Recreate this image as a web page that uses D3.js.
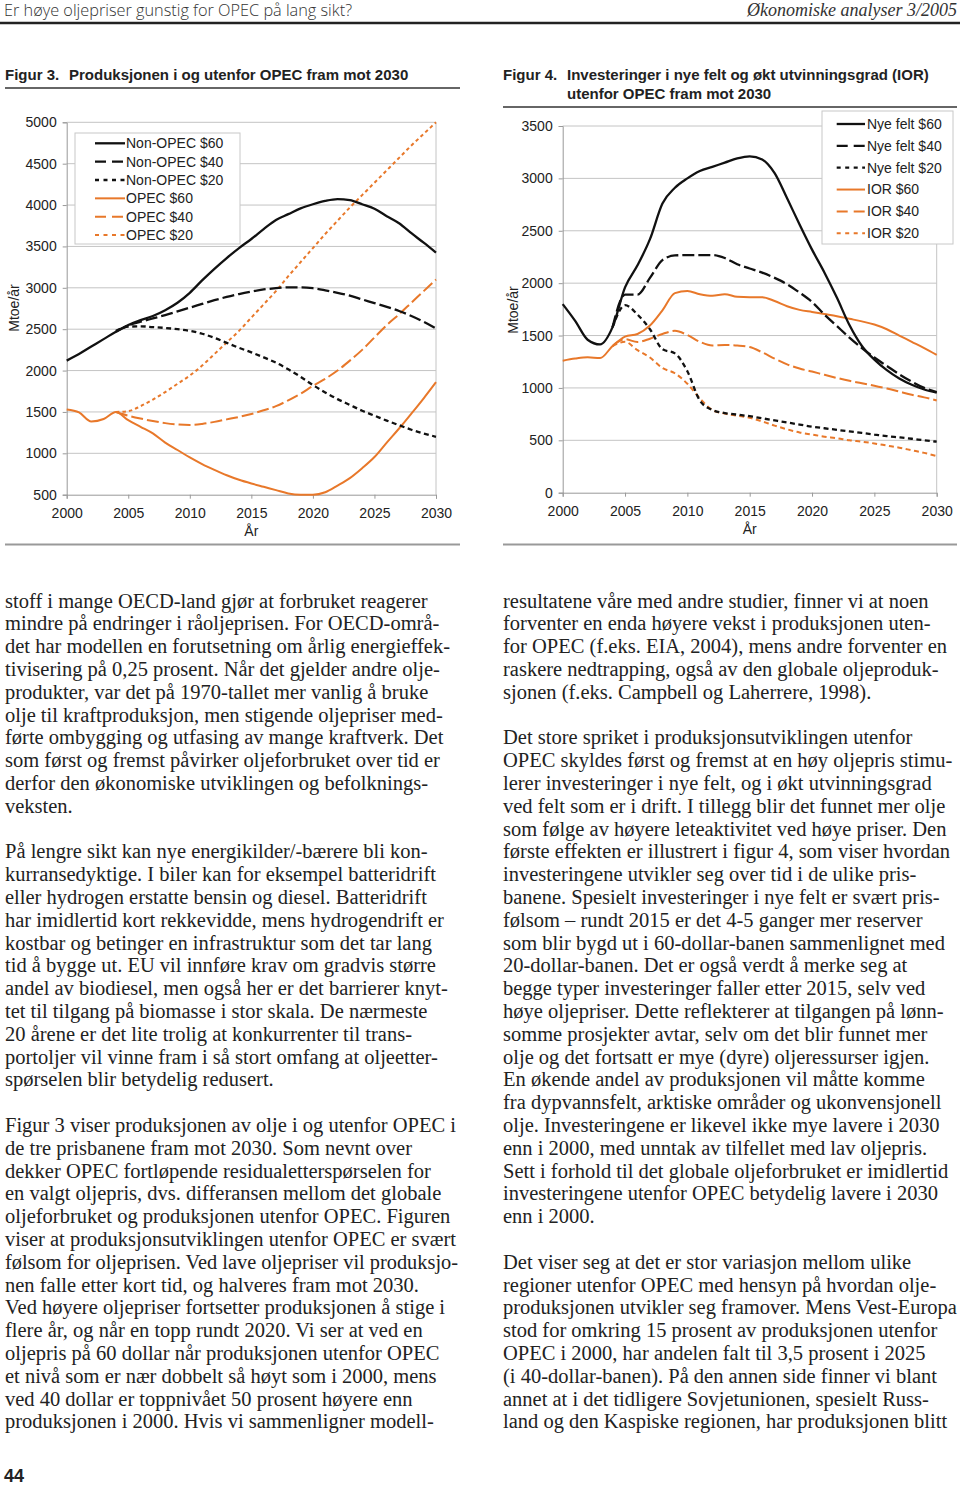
<!DOCTYPE html>
<html><head><meta charset="utf-8">
<script src="https://cdn.jsdelivr.net/npm/d3@7"></script>
<style>body{margin:0;background:#fff;} svg{display:block;}</style>
</head><body><svg id="page" width="960" height="1485"></svg>
<script>
// ---------- DATA ----------
const years = [2000,2001,2002,2003,2004,2005,2006,2007,2008,2009,2010,2011,2012,2013,2014,2015,2016,2017,2018,2019,2020,2021,2022,2023,2024,2025,2026,2027,2028,2029,2030];
const xTicks = [2000,2005,2010,2015,2020,2025,2030];

// Figur 3 (Mtoe/år)
const fig3YTicks = [500,1000,1500,2000,2500,3000,3500,4000,4500,5000];
const nonOpec60 = [2120,2200,2290,2380,2470,2550,2610,2660,2730,2820,2940,3090,3230,3360,3480,3590,3710,3820,3890,3960,4010,4050,4072,4060,4010,3955,3865,3780,3660,3545,3425];
const nonOpec40 = [null,null,null,null,2470,2545,2590,2630,2670,2715,2760,2805,2850,2890,2925,2955,2980,2995,3005,3005,2995,2970,2940,2905,2860,2815,2770,2720,2660,2590,2510];
const nonOpec20 = [null,null,null,null,2480,2530,2535,2525,2515,2500,2480,2445,2395,2335,2275,2220,2160,2095,2015,1925,1825,1735,1655,1585,1515,1455,1395,1340,1285,1240,1200];
const opec60 = [1530,1495,1385,1415,1500,1400,1320,1240,1130,1040,950,870,800,735,680,635,595,555,515,500,500,530,610,700,820,955,1130,1300,1480,1665,1860];
const opec40 = [null,null,null,null,1500,1455,1420,1390,1365,1348,1342,1355,1380,1410,1440,1475,1520,1570,1640,1720,1815,1900,2000,2120,2250,2400,2550,2680,2820,2960,3100];
const opec20 = [null,null,null,null,1500,1510,1570,1650,1740,1840,1940,2060,2200,2340,2480,2640,2800,2960,3140,3310,3480,3650,3810,3970,4120,4270,4420,4570,4720,4860,5000];
const fig3Names = ["Non-OPEC $60","Non-OPEC $40","Non-OPEC $20","OPEC $60","OPEC $40","OPEC $20"];

// Figur 4 (Mtoe/år)
const fig4YTicks = [0,500,1000,1500,2000,2500,3000,3500];
const nyeFelt60 = [1800,1640,1460,1415,1580,1960,2170,2420,2760,2910,3000,3070,3110,3150,3190,3210,3180,3050,2810,2560,2320,2100,1860,1600,1400,1270,1170,1090,1030,985,955];
const nyeFelt40 = [null,null,null,null,1580,1890,1890,2050,2220,2265,2268,2268,2268,2240,2180,2140,2100,2050,1990,1910,1820,1700,1590,1480,1380,1290,1210,1130,1060,1000,960];
const nyeFelt20 = [null,null,null,null,1580,1790,1700,1560,1370,1330,1160,880,790,760,745,730,710,690,670,650,630,615,600,585,570,555,540,528,515,500,487];
const ior60 = [1260,1280,1292,1285,1400,1490,1515,1595,1740,1905,1925,1895,1880,1895,1870,1866,1866,1830,1780,1745,1725,1705,1685,1660,1635,1605,1560,1500,1440,1380,1315];
const ior40 = [null,null,null,null,1400,1465,1438,1470,1515,1545,1505,1440,1405,1410,1405,1390,1340,1280,1225,1185,1156,1125,1095,1068,1045,1020,995,965,935,910,880];
const ior20 = [null,null,null,null,1400,1440,1360,1290,1190,1140,1040,900,790,755,735,715,680,640,605,575,555,535,520,500,487,470,450,430,405,380,350];
const fig4Names = ["Nye felt $60","Nye felt $40","Nye felt $20","IOR $60","IOR $40","IOR $20"];

// Text
const headerLeft = "Er høye oljepriser gunstig for OPEC på lang sikt?";
const headerRight = "Økonomiske analyser 3/2005";
const fig3Title = ["Figur 3.", "Produksjonen i og utenfor OPEC fram mot 2030"];
const fig4Title = ["Figur 4.", "Investeringer i nye felt og økt utvinningsgrad (IOR)", "utenfor OPEC fram mot 2030"];
const yAxisTitle = "Mtoe/år";
const xAxisTitle = "År";
const pageNumber = "44";

const leftLines = [
"stoff i mange OECD-land gjør at forbruket reagerer",
"mindre på endringer i råoljeprisen. For OECD-områ-",
"det har modellen en forutsetning om årlig energieffek-",
"tivisering på 0,25 prosent. Når det gjelder andre olje-",
"produkter, var det på 1970-tallet mer vanlig å bruke",
"olje til kraftproduksjon, men stigende oljepriser med-",
"førte ombygging og utfasing av mange kraftverk. Det",
"som først og fremst påvirker oljeforbruket over tid er",
"derfor den økonomiske utviklingen og befolknings-",
"veksten.",
"",
"På lengre sikt kan nye energikilder/-bærere bli kon-",
"kurransedyktige. I biler kan for eksempel batteridrift",
"eller hydrogen erstatte bensin og diesel. Batteridrift",
"har imidlertid kort rekkevidde, mens hydrogendrift er",
"kostbar og betinger en infrastruktur som det tar lang",
"tid å bygge ut. EU vil innføre krav om gradvis større",
"andel av biodiesel, men også her er det barrierer knyt-",
"tet til tilgang på biomasse i stor skala. De nærmeste",
"20 årene er det lite trolig at konkurrenter til trans-",
"portoljer vil vinne fram i så stort omfang at oljeetter-",
"spørselen blir betydelig redusert.",
"",
"Figur 3 viser produksjonen av olje i og utenfor OPEC i",
"de tre prisbanene fram mot 2030. Som nevnt over",
"dekker OPEC fortløpende residualetterspørselen for",
"en valgt oljepris, dvs. differansen mellom det globale",
"oljeforbruket og produksjonen utenfor OPEC. Figuren",
"viser at produksjonsutviklingen utenfor OPEC er svært",
"følsom for oljeprisen. Ved lave oljepriser vil produksjo-",
"nen falle etter kort tid, og halveres fram mot 2030.",
"Ved høyere oljepriser fortsetter produksjonen å stige i",
"flere år, og når en topp rundt 2020. Vi ser at ved en",
"oljepris på 60 dollar når produksjonen utenfor OPEC",
"et nivå som er nær dobbelt så høyt som i 2000, mens",
"ved 40 dollar er toppnivået 50 prosent høyere enn",
"produksjonen i 2000. Hvis vi sammenligner modell-"
];
const rightLines = [
"resultatene våre med andre studier, finner vi at noen",
"forventer en enda høyere vekst i produksjonen uten-",
"for OPEC (f.eks. EIA, 2004), mens andre forventer en",
"raskere nedtrapping, også av den globale oljeproduk-",
"sjonen (f.eks. Campbell og Laherrere, 1998).",
"",
"Det store spriket i produksjonsutviklingen utenfor",
"OPEC skyldes først og fremst at en høy oljepris stimu-",
"lerer investeringer i nye felt, og i økt utvinningsgrad",
"ved felt som er i drift. I tillegg blir det funnet mer olje",
"som følge av høyere leteaktivitet ved høye priser. Den",
"første effekten er illustrert i figur 4, som viser hvordan",
"investeringene utvikler seg over tid i de ulike pris-",
"banene. Spesielt investeringer i nye felt er svært pris-",
"følsom – rundt 2015 er det 4-5 ganger mer reserver",
"som blir bygd ut i 60-dollar-banen sammenlignet med",
"20-dollar-banen. Det er også verdt å merke seg at",
"begge typer investeringer faller etter 2015, selv ved",
"høye oljepriser. Dette reflekterer at tilgangen på lønn-",
"somme prosjekter avtar, selv om det blir funnet mer",
"olje og det fortsatt er mye (dyre) oljeressurser igjen.",
"En økende andel av produksjonen vil måtte komme",
"fra dypvannsfelt, arktiske områder og ukonvensjonell",
"olje. Investeringene er likevel ikke mye lavere i 2030",
"enn i 2000, med unntak av tilfellet med lav oljepris.",
"Sett i forhold til det globale oljeforbruket er imidlertid",
"investeringene utenfor OPEC betydelig lavere i 2030",
"enn i 2000.",
"",
"Det viser seg at det er stor variasjon mellom ulike",
"regioner utenfor OPEC med hensyn på hvordan olje-",
"produksjonen utvikler seg framover. Mens Vest-Europa",
"stod for omkring 15 prosent av produksjonen utenfor",
"OPEC i 2000, har andelen falt til 3,5 prosent i 2025",
"(i 40-dollar-banen). På den annen side finner vi blant",
"annet at i det tidligere Sovjetunionen, spesielt Russ-",
"land og den Kaspiske regionen, har produksjonen blitt"
];

// ---------- STYLES ----------
const BLACK = "#111", ORANGE = "#E8782A";
const styles = [
  {color: BLACK, dash: null, w: 2.3},
  {color: BLACK, dash: "12,4", w: 2.3},
  {color: BLACK, dash: "5,3.5", w: 2.3},
  {color: ORANGE, dash: null, w: 2},
  {color: ORANGE, dash: "12,4", w: 2},
  {color: ORANGE, dash: "3.5,3", w: 2}
];
const SANS = "'Liberation Sans', Arial, Helvetica, sans-serif";
const SERIF = "'Liberation Serif', 'Times New Roman', serif";

const svg = d3.select("#page");

// ---------- HEADER ----------
svg.append("text").attr("x", 4).attr("y", 16).attr("font-family", "'Open Sans', 'Liberation Sans', sans-serif")
  .attr("font-weight", 300).attr("font-size", 16.3).attr("fill", "#333").text(headerLeft);
svg.append("text").attr("x", 957).attr("y", 16).attr("text-anchor", "end").attr("font-family", SERIF)
  .attr("font-style", "italic").attr("font-size", 18).attr("fill", "#333").text(headerRight);
svg.append("line").attr("x1", 0).attr("x2", 960).attr("y1", 23).attr("y2", 23).attr("stroke", "#222").attr("stroke-width", 2.5);

const TITLEFONT = "'Liberation Sans Narrow', 'Liberation Sans', Arial, sans-serif";
function title(x, x2, y, parts) {
  svg.append("text").attr("x", x).attr("y", y).attr("font-family", TITLEFONT).attr("font-weight", "bold")
    .attr("font-size", 15).attr("fill", "#222").text(parts[0]);
  parts.slice(1).forEach((p, i) => {
    svg.append("text").attr("x", x2).attr("y", y + i * 19).attr("font-family", TITLEFONT).attr("font-weight", "bold")
      .attr("font-size", 15).attr("fill", "#222").text(p);
  });
}
title(5, 69, 80, fig3Title);
svg.append("line").attr("x1", 5).attr("x2", 460).attr("y1", 88).attr("y2", 88).attr("stroke", "#333").attr("stroke-width", 1.5);
title(503, 567, 80, fig4Title);
svg.append("line").attr("x1", 503).attr("x2", 957).attr("y1", 107).attr("y2", 107).attr("stroke", "#333").attr("stroke-width", 1.5);

svg.append("line").attr("x1", 5).attr("x2", 460).attr("y1", 544.5).attr("y2", 544.5).attr("stroke", "#999").attr("stroke-width", 2);
svg.append("line").attr("x1", 503).attr("x2", 957).attr("y1", 544.5).attr("y2", 544.5).attr("stroke", "#999").attr("stroke-width", 2);

// ---------- CHARTS ----------
function drawChart(cfg) {
  const g = svg.append("g");
  const x = d3.scaleLinear().domain([2000, 2030]).range([cfg.x0, cfg.x1]);
  const y = d3.scaleLinear().domain(cfg.yDomain).range([cfg.yb, cfg.yt]);

  g.selectAll("line.grid").data(cfg.yTicks.slice(1)).enter().append("line")
    .attr("x1", cfg.x0).attr("x2", cfg.x1).attr("y1", d => y(d)).attr("y2", d => y(d))
    .attr("stroke", "#c4c4c4").attr("stroke-width", 1);
  g.append("line").attr("x1", cfg.x1).attr("x2", cfg.x1).attr("y1", cfg.yt).attr("y2", cfg.yb)
    .attr("stroke", "#c4c4c4").attr("stroke-width", 1);

  const ya = g.append("g").attr("transform", `translate(${cfg.x0},0)`)
    .call(d3.axisLeft(y).tickValues(cfg.yTicks).tickSize(4).tickPadding(6).tickFormat(d3.format("d")));
  const xa = g.append("g").attr("transform", `translate(0,${cfg.yb})`)
    .call(d3.axisBottom(x).tickValues(xTicks).tickSize(4).tickPadding(9).tickFormat(d3.format("d")));
  [ya, xa].forEach(a => {
    a.selectAll("path.domain").attr("stroke", "#999");
    a.selectAll(".tick line").attr("stroke", "#999");
    a.selectAll("text").attr("font-family", SANS).attr("font-size", 14).attr("fill", "#222");
  });

  g.append("text").attr("x", (cfg.x0 + cfg.x1) / 2).attr("y", cfg.yb + 41).attr("text-anchor", "middle")
    .attr("font-family", SANS).attr("font-size", 14).attr("fill", "#222").text(xAxisTitle);
  g.append("text").attr("transform", `translate(${cfg.ytx},${cfg.yty}) rotate(-90)`).attr("text-anchor", "middle")
    .attr("font-family", SANS).attr("font-size", 14).attr("fill", "#222").text(yAxisTitle);

  const line = d3.line().defined(d => d[1] != null).x(d => x(d[0])).y(d => y(d[1])).curve(d3.curveMonotoneX);
  const order = [5, 4, 3, 2, 1, 0];
  order.forEach(i => {
    const s = cfg.series[i], st = cfg.styles[i];
    g.append("path").datum(years.map((yr, k) => [yr, s[k]]))
      .attr("d", line).attr("fill", "none").attr("stroke", st.color).attr("stroke-width", st.w)
      .attr("stroke-dasharray", st.dash).attr("stroke-linejoin", "round");
  });

  const L = cfg.legend;
  g.append("rect").attr("x", L.x).attr("y", L.y).attr("width", L.w).attr("height", L.h)
    .attr("fill", "#fff").attr("stroke", "#c8c8c8").attr("stroke-width", 1);
  cfg.names.forEach((n, i) => {
    const ry = L.rowY0 + i * L.rowDy, st = cfg.styles[i];
    g.append("line").attr("x1", L.lx0).attr("x2", L.lx1).attr("y1", ry).attr("y2", ry)
      .attr("stroke", st.color).attr("stroke-width", st.w).attr("stroke-dasharray", st.dash ? (st.dash === "12,4" ? "11,6" : "4,4.5") : null);
    g.append("text").attr("x", L.tx).attr("y", ry).attr("dy", "0.35em").attr("font-family", SANS)
      .attr("font-size", 14).attr("fill", "#222").text(n);
  });
}

drawChart({
  x0: 66.7, x1: 436, yb: 494.7, yt: 122.3, yDomain: [500, 5000], yTicks: fig3YTicks,
  ytx: 19, yty: 308,
  series: [nonOpec60, nonOpec40, nonOpec20, opec60, opec40, opec20], styles, names: fig3Names,
  legend: {x: 75, y: 133, w: 165, h: 111, rowY0: 143.3, rowDy: 18.35, lx0: 95, lx1: 125, tx: 126}
});
drawChart({
  x0: 562.7, x1: 936.7, yb: 492.7, yt: 126, yDomain: [0, 3500], yTicks: fig4YTicks,
  ytx: 518, yty: 310,
  series: [nyeFelt60, nyeFelt40, nyeFelt20, ior60, ior40, ior20],
  styles: styles.map((s, i) => i === 5 ? Object.assign({}, s, {dash: "5,3.5"}) : s), names: fig4Names,
  legend: {x: 822, y: 111, w: 131, h: 133, rowY0: 124, rowDy: 21.85, lx0: 836.7, lx1: 865, tx: 867}
});

// ---------- BODY TEXT ----------
function column(lines, x, maxW) {
  svg.append("g").selectAll("text").data(lines).enter().append("text")
    .attr("x", x).attr("y", (d, i) => 607.5 + i * 22.8)
    .attr("font-family", SERIF).attr("font-size", 20.5).attr("fill", "#222").text(d => d)
    .each(function() {
      const w = this.getComputedTextLength();
      if (w > maxW) d3.select(this).attr("textLength", maxW).attr("lengthAdjust", "spacingAndGlyphs");
    });
}
column(leftLines, 5, 453);
column(rightLines, 503, 454);

svg.append("text").attr("x", 4).attr("y", 1482).attr("font-family", SANS).attr("font-weight", "bold")
  .attr("font-size", 18).attr("fill", "#222").text(pageNumber);
</script>
</body></html>
